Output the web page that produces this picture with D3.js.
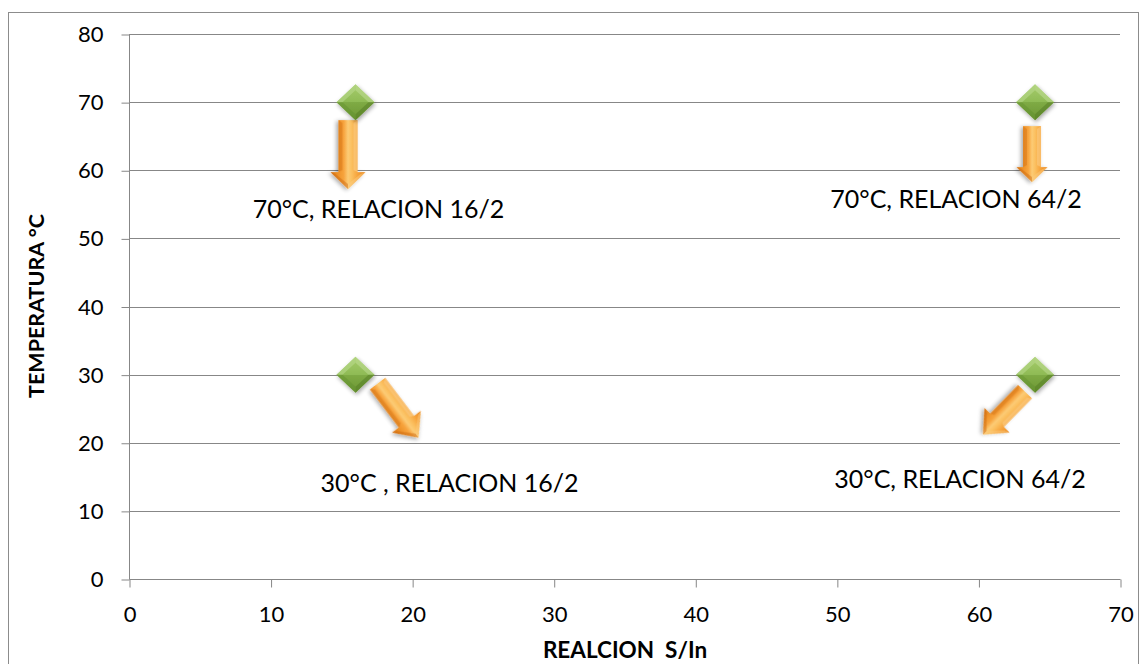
<!DOCTYPE html>
<html>
<head>
<meta charset="utf-8">
<script src="https://cdn.jsdelivr.net/npm/d3@7"></script>
<style>
  html, body { margin: 0; padding: 0; background: #ffffff; }
  svg { display: block; }
  text { font-family: Lato, "Open Sans", sans-serif; fill: #000; }
</style>
</head>
<body>
<svg id="chart" width="1147" height="664"></svg>
<script>
// Data: temperature vs. S/In ratio
const relacion = [16, 16, 64, 64];
const temperatura = [70, 30, 70, 30];
const etiquetas = ["70°C, RELACION 16/2", "30°C , RELACION 16/2", "70°C, RELACION 64/2", "30°C, RELACION 64/2"];
const xTicks = [0, 10, 20, 30, 40, 50, 60, 70];
const yTicks = [0, 10, 20, 30, 40, 50, 60, 70, 80];

// Callout arrows (offsets from each point, pixels) and label offsets
const arrows = [
  { tail: [-7.5, 18], tip: [-7.5, 87], shaft: 19, head: 35, headLen: 17 },
  { tail: [22, 9], tip: [63, 63], shaft: 19, head: 36, headLen: 20 },
  { tail: [-3, 24], tip: [-3, 80], shaft: 18, head: 31, headLen: 15 },
  { tail: [-10, 17], tip: [-52, 60], shaft: 19, head: 35, headLen: 20 }
];
const labelPos = [[23, 116], [94, 117], [-79, 106], [-75, 113]];

const svg = d3.select("#chart");
const margin = { left: 129, right: 27, top: 34, bottom: 85 };
const W = 1147, H = 664;

const x = d3.scaleLinear().domain([0, 70]).range([margin.left, W - margin.right]);
const y = d3.scaleLinear().domain([0, 80]).range([H - margin.bottom, margin.top]);

const defs = svg.append("defs");

// Outer chart frame
svg.append("rect")
  .attr("x", 8.5).attr("y", 12.5)
  .attr("width", 1130).attr("height", 670)
  .attr("fill", "none").attr("stroke", "#8c8c8c").attr("stroke-width", 1);

const grid = "#878787";

// Horizontal gridlines
svg.append("g").selectAll("line")
  .data(yTicks.filter(d => d > 0))
  .join("line")
  .attr("x1", x(0)).attr("x2", x(70))
  .attr("y1", d => Math.round(y(d)) + 0.5).attr("y2", d => Math.round(y(d)) + 0.5)
  .attr("stroke", grid).attr("stroke-width", 1);

// Y axis
const yAxis = svg.append("g")
  .attr("transform", `translate(${Math.round(x(0)) + 0.5},0.5)`)
  .call(d3.axisLeft(y).tickValues(yTicks).tickSize(8).tickPadding(18).tickFormat(d3.format("d")));

// X axis
const xAxis = svg.append("g")
  .attr("transform", `translate(0.5,${Math.round(y(0)) + 0.5})`)
  .call(d3.axisBottom(x).tickValues(xTicks).tickSize(8).tickPadding(19).tickFormat(d3.format("d")));

[yAxis, xAxis].forEach(g => {
  g.select(".domain").attr("stroke", grid).attr("stroke-width", 1);
  g.selectAll(".tick line").attr("stroke", grid).attr("stroke-width", 1);
  g.selectAll(".tick text").style("font-size", "22px").style("font-family", "Lato, sans-serif").attr("fill", "#000");
});
// domains without outer end caps
xAxis.select(".domain").attr("d", `M${x(0)},0H${x(70)}`);
yAxis.select(".domain").attr("d", `M0,${y(80)}V${y(0)}`);

// Axis titles
svg.append("text")
  .attr("x", 625).attr("y", 658)
  .attr("text-anchor", "middle")
  .style("font-size", "22.5px").style("font-weight", "bold")
  .attr("xml:space", "preserve")
  .text("REALCION  S/In");

svg.append("text")
  .attr("transform", "translate(44,306) rotate(-90)")
  .attr("text-anchor", "middle")
  .style("font-size", "21.5px").style("font-weight", "bold")
  .text("TEMPERATURA °C");

// Gradients and shadow
const gGreen = defs.append("linearGradient").attr("id", "gGreen").attr("x1", 0).attr("y1", 0).attr("x2", 0).attr("y2", 1);
gGreen.append("stop").attr("offset", "0%").attr("stop-color", "#a6cc6c");
gGreen.append("stop").attr("offset", "50%").attr("stop-color", "#8fbb55");
gGreen.append("stop").attr("offset", "50%").attr("stop-color", "#7fab45");
gGreen.append("stop").attr("offset", "100%").attr("stop-color", "#6c9634");

const shadow = defs.append("filter").attr("id", "shadow").attr("x", "-30%").attr("y", "-30%").attr("width", "160%").attr("height", "160%");
shadow.append("feGaussianBlur").attr("in", "SourceAlpha").attr("stdDeviation", 2).attr("result", "b");
shadow.append("feOffset").attr("in", "b").attr("dx", 1).attr("dy", 2).attr("result", "o");
shadow.append("feComponentTransfer").attr("in", "o").attr("result", "s")
  .append("feFuncA").attr("type", "linear").attr("slope", 0.35);
const merge = shadow.append("feMerge");
merge.append("feMergeNode").attr("in", "s");
merge.append("feMergeNode").attr("in", "SourceGraphic");

const pts = relacion.map((r, i) => ({ r, t: temperatura[i], label: etiquetas[i], arrow: arrows[i], lp: labelPos[i] }));

// Arrows
const arrowG = svg.append("g");
pts.forEach((p, i) => {
  const cx = x(p.r), cy = y(p.t);
  const a = p.arrow;
  const x0 = cx + a.tail[0], y0 = cy + a.tail[1];
  const x1 = cx + a.tip[0], y1 = cy + a.tip[1];
  const len = Math.hypot(x1 - x0, y1 - y0);
  const ang = Math.atan2(y1 - y0, x1 - x0) * 180 / Math.PI;
  const s = a.shaft / 2, h = a.head / 2, L = len - a.headLen;
  const gid = "gOrange" + i;
  const gr = defs.append("linearGradient").attr("id", gid)
    .attr("gradientUnits", "userSpaceOnUse")
    .attr("x1", 0).attr("y1", -h).attr("x2", 0).attr("y2", h);
  gr.append("stop").attr("offset", "0%").attr("stop-color", "#e8861c");
  gr.append("stop").attr("offset", "22%").attr("stop-color", "#f6a23a");
  gr.append("stop").attr("offset", "40%").attr("stop-color", "#fbc060");
  gr.append("stop").attr("offset", "50%").attr("stop-color", "#fccb75");
  gr.append("stop").attr("offset", "62%").attr("stop-color", "#f7a43e");
  gr.append("stop").attr("offset", "78%").attr("stop-color", "#ee9228");
  gr.append("stop").attr("offset", "100%").attr("stop-color", "#d9781a");
  const g = arrowG.append("g")
    .attr("transform", `translate(${x0},${y0}) rotate(${ang})`)
    .attr("filter", "url(#shadow)");
  // arrow outline in local coords (pointing +x)
  const pathD = `M0,${-s}L${L},${-s}L${L},${-h}L${len},0L${L},${h}L${L},${s}L0,${s}Z`;
  g.append("path").attr("d", pathD).attr("fill", `url(#${gid})`);
  // bevel highlights
  g.append("path").attr("d", `M0,${-s}L${L},${-s}L${L - 2},${-s + 4}L3,${-s + 4}Z`).attr("fill", "#fcd08a").attr("opacity", 0.55);
  g.append("path").attr("d", `M${L},${-h}L${len},0L${len - 5},0L${L + 2},${-h + 5}Z`).attr("fill", "#fbcc80").attr("opacity", 0.5);
  g.append("path").attr("d", `M${L},${h}L${len},0L${len - 5},0L${L + 2},${h - 5}Z`).attr("fill", "#c9650f").attr("opacity", 0.45);
  g.append("path").attr("d", `M0,${s}L${L},${s}L${L - 2},${s - 4}L3,${s - 4}Z`).attr("fill", "#c9650f").attr("opacity", 0.35);
});

// Diamond markers
const dw = 19, dh = 18;
const markers = svg.append("g").selectAll("g").data(pts).join("g")
  .attr("transform", d => `translate(${x(d.r)},${y(d.t)})`)
  .attr("filter", "url(#shadow)");
markers.append("path")
  .attr("d", `M0,${-dh}L${dw},0L0,${dh}L${-dw},0Z`)
  .attr("fill", "url(#gGreen)");
// facets
markers.append("path").attr("d", `M0,${-dh}L${-dw},0L${-dw + 6},0L0,${-dh + 6}Z`).attr("fill", "#b8d98a").attr("opacity", 0.6);
markers.append("path").attr("d", `M0,${-dh}L${dw},0L${dw - 6},0L0,${-dh + 6}Z`).attr("fill", "#c4e09a").attr("opacity", 0.5);
markers.append("path").attr("d", `M0,${dh}L${dw},0L${dw - 6},0L0,${dh - 6}Z`).attr("fill", "#557d25").attr("opacity", 0.55);
markers.append("path").attr("d", `M0,${dh}L${-dw},0L${-dw + 6},0L0,${dh - 6}Z`).attr("fill", "#62902e").attr("opacity", 0.45);

// Point labels
svg.append("g").selectAll("text").data(pts).join("text")
  .attr("x", d => x(d.r) + d.lp[0])
  .attr("y", d => y(d.t) + d.lp[1])
  .attr("text-anchor", "middle")
  .style("font-size", "25px")
  .attr("xml:space", "preserve")
  .text(d => d.label);
</script>
</body>
</html>
